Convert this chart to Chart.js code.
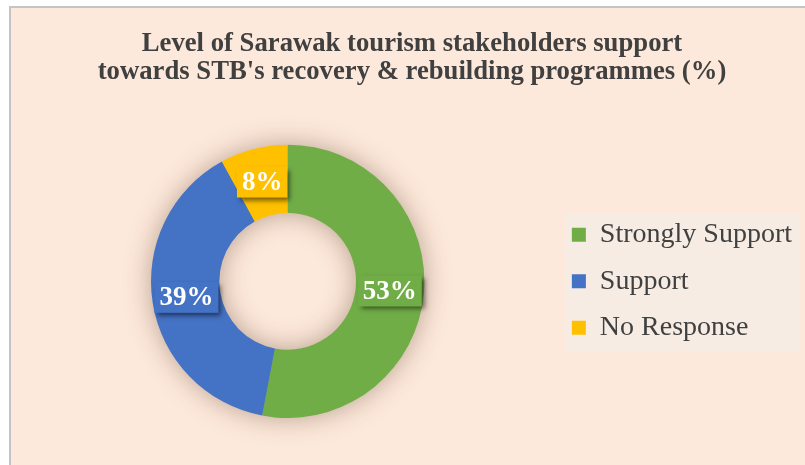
<!DOCTYPE html>
<html>
<head>
<meta charset="utf-8">
<script src="https://cdn.jsdelivr.net/npm/chart.js@4/dist/chart.umd.min.js"></script>
<style>
  html, body { margin: 0; padding: 0; background: #ffffff; overflow: hidden; }
  #frame {
    position: absolute; left: 9px; top: 6px;
    width: 806px; height: 470px;
    border-left: 2px solid #c4c4c4; border-top: 2px solid #c4c4c4;
    background: #fde9db;
  }
</style>
</head>
<body>
<div id="frame"><canvas id="donut" width="806" height="470"></canvas></div>
<script>
// data
const categories = ['Strongly Support', 'Support', 'No Response'];
const shares = [53, 39, 8];
const sliceColors = ['#70ad47', '#4472c4', '#ffc000'];
const titleLines = [
  'Level of Sarawak tourism stakeholders support',
  "towards STB's recovery & rebuilding programmes (%)"
];

const serif = "'Liberation Serif', 'Times New Roman', serif";

// soft halo under the ring, drawn before the slices
const ringShadow = {
  id: 'ringShadow',
  beforeDatasetsDraw(chart) {
    const arc = chart.getDatasetMeta(0).data[0];
    if (!arc) return;
    const {x, y, innerRadius, outerRadius} = arc.getProps(['x', 'y', 'innerRadius', 'outerRadius'], true);
    const ctx = chart.ctx;
    ctx.save();
    ctx.shadowColor = 'rgba(60, 30, 10, 0.38)';
    ctx.shadowBlur = 28;
    ctx.fillStyle = '#999';
    ctx.beginPath();
    ctx.arc(x, y, outerRadius - 1, 0, Math.PI * 2);
    ctx.arc(x, y, innerRadius + 1, 0, Math.PI * 2, true);
    ctx.fill();
    ctx.restore();
  }
};

// light panel behind the legend
const legendPanel = {
  id: 'legendPanel',
  beforeDraw(chart) {
    const lg = chart.legend;
    if (!lg) return;
    const ctx = chart.ctx;
    const mid = (lg.top + lg.bottom) / 2;
    ctx.save();
    ctx.fillStyle = '#f6ece3';
    ctx.fillRect(lg.left + 11.5, mid - 68, 235, 139);
    ctx.restore();
  }
};

// percentage labels in boxes of the slice colour
const sliceLabels = {
  id: 'sliceLabels',
  afterDatasetsDraw(chart) {
    const ctx = chart.ctx;
    const meta = chart.getDatasetMeta(0);
    ctx.save();
    ctx.font = 'bold 27px ' + serif;
    ctx.textAlign = 'center';
    ctx.textBaseline = 'middle';
    meta.data.forEach((arc, i) => {
      const p = arc.tooltipPosition(true);
      const txt = shares[i] + '%';
      const w = ctx.measureText(txt).width + 10;
      const h = 31;
      ctx.save();
      ctx.shadowColor = 'rgba(0, 0, 0, 0.55)';
      ctx.shadowBlur = 5;
      ctx.shadowOffsetX = 3;
      ctx.shadowOffsetY = 3;
      ctx.fillStyle = sliceColors[i];
      ctx.fillRect(p.x - w / 2, p.y - h / 2, w, h);
      ctx.restore();
      ctx.fillStyle = '#ffffff';
      ctx.fillText(txt, p.x, p.y + 1);
    });
    ctx.restore();
  }
};

const ctx = document.getElementById('donut').getContext('2d');
const chart = new Chart(ctx, {
  type: 'doughnut',
  data: {
    labels: categories,
    datasets: [{
      data: shares,
      backgroundColor: sliceColors,
      borderWidth: 0,
      hoverOffset: 0
    }]
  },
  options: {
    responsive: false,
    animation: false,
    cutout: '50%',
    layout: {
      padding: { left: 11, right: 15, top: 0, bottom: 60 }
    },
    plugins: {
      title: {
        display: true,
        text: titleLines,
        color: '#404040',
        font: { family: serif, size: 26.7, weight: 'bold', lineHeight: 1.07 },
        padding: { top: 21.5, bottom: 58 }
      },
      legend: {
        position: 'right',
        fullSize: false,
        labels: {
          color: '#404040',
          font: { family: serif, size: 28 },
          boxWidth: 14,
          boxHeight: 14,
          padding: 18.5
        }
      },
      tooltip: { enabled: false }
    }
  },
  plugins: [legendPanel, ringShadow, sliceLabels]
});
</script>
</body>
</html>
